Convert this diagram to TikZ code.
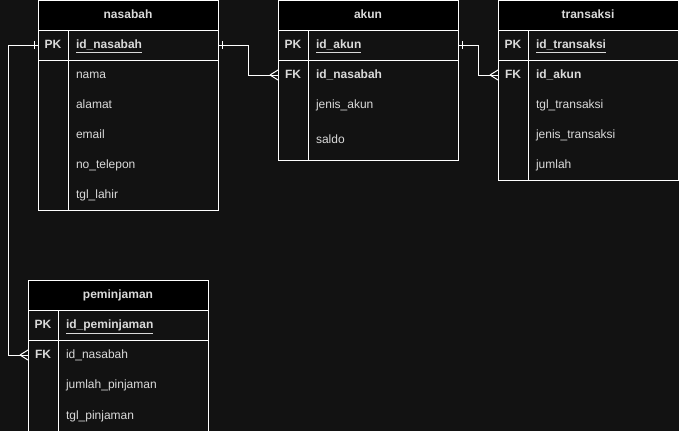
\documentclass[tikz,border=0pt]{standalone}
\usepackage{fontspec}
\setmainfont{Liberation Sans}
\usetikzlibrary{positioning}

\definecolor{canvas}{HTML}{121212}
\definecolor{ink}{HTML}{DADADA}

\newcommand{\erfont}{\fontsize{12}{14}\selectfont}

\tikzset{
	every node/.style={outer sep=0pt, inner sep=0pt, text=ink, text height=9.8pt, text depth=2pt, font=\erfont},
	tableline/.style={draw=white, line width=1pt},
	tablehead/.style={tableline, fill=black, minimum width=180pt, minimum height=30pt, font=\erfont\bfseries, anchor=north west},
	keycell/.style={minimum width=30pt, minimum height=30pt, font=\erfont\bfseries},
	fieldcell/.style={minimum width=150pt, minimum height=30pt, text width=134pt, inner xsep=8pt, align=left},
	pkkey/.style={keycell, tableline},
	pkfield/.style={fieldcell, tableline},
	rel/.style={draw=white, line width=1pt}
}

\begin{document}
\begin{tikzpicture}[x=1pt, y=-1pt]
		\path[use as bounding box, fill=canvas] (0,0) rectangle (679,431);
		\clip (0,0) rectangle (679,431);

		% nasabah
		\node[tablehead] (nas) at (38,0) {nasabah};
		\node[pkkey, below right=0pt of nas.south west]  (nas-pk) {PK};
		\node[pkfield, right=0pt of nas-pk]              (nas-id) {\underline{\textbf{id\_nasabah}}};
		\node[keycell, below=0pt of nas-pk]              (nas-k1) {};
		\node[fieldcell, right=0pt of nas-k1]            (nas-f1) {nama};
		\node[keycell, below=0pt of nas-k1]              (nas-k2) {};
		\node[fieldcell, right=0pt of nas-k2]            (nas-f2) {alamat};
		\node[keycell, below=0pt of nas-k2]              (nas-k3) {};
		\node[fieldcell, right=0pt of nas-k3]            (nas-f3) {email};
		\node[keycell, below=0pt of nas-k3]              (nas-k4) {};
		\node[fieldcell, right=0pt of nas-k4]            (nas-f4) {no\_telepon};
		\node[keycell, below=0pt of nas-k4]              (nas-k5) {};
		\node[fieldcell, right=0pt of nas-k5]            (nas-f5) {tgl\_lahir};
		\draw[tableline] (nas-k1.north west) rectangle (nas-f5.south east);
		\draw[tableline] (nas-k1.north east) -- (nas-k5.south east);

		% akun
		\node[tablehead] (akun) at (278,0) {akun};
		\node[pkkey, below right=0pt of akun.south west] (akun-pk) {PK};
		\node[pkfield, right=0pt of akun-pk]             (akun-id) {\underline{\textbf{id\_akun}}};
		\node[keycell, below=0pt of akun-pk]             (akun-k1) {FK};
		\node[fieldcell, right=0pt of akun-k1]           (akun-f1) {\textbf{id\_nasabah}};
		\node[keycell, below=0pt of akun-k1]             (akun-k2) {};
		\node[fieldcell, right=0pt of akun-k2]           (akun-f2) {jenis\_akun};
		\node[keycell, minimum height=40pt, below=0pt of akun-k2] (akun-k3) {};
		\node[fieldcell, minimum height=40pt, right=0pt of akun-k3] (akun-f3) {saldo};
		\draw[tableline] (akun-k1.north west) rectangle (akun-f3.south east);
		\draw[tableline] (akun-k1.north east) -- (akun-k3.south east);

		% transaksi
		\node[tablehead] (trx) at (498,0) {transaksi};
		\node[pkkey, below right=0pt of trx.south west]  (trx-pk) {PK};
		\node[pkfield, right=0pt of trx-pk]              (trx-id) {\underline{\textbf{id\_transaksi}}};
		\node[keycell, below=0pt of trx-pk]              (trx-k1) {FK};
		\node[fieldcell, right=0pt of trx-k1]            (trx-f1) {\textbf{id\_akun}};
		\node[keycell, below=0pt of trx-k1]              (trx-k2) {};
		\node[fieldcell, right=0pt of trx-k2]            (trx-f2) {tgl\_transaksi};
		\node[keycell, below=0pt of trx-k2]              (trx-k3) {};
		\node[fieldcell, right=0pt of trx-k3]            (trx-f3) {jenis\_transaksi};
		\node[keycell, below=0pt of trx-k3]              (trx-k4) {};
		\node[fieldcell, right=0pt of trx-k4]            (trx-f4) {jumlah};
		\draw[tableline] (trx-k1.north west) rectangle (trx-f4.south east);
		\draw[tableline] (trx-k1.north east) -- (trx-k4.south east);

		% peminjaman
		\node[tablehead] (pem) at (28,280) {peminjaman};
		\node[pkkey, below right=0pt of pem.south west]  (pem-pk) {PK};
		\node[pkfield, right=0pt of pem-pk]              (pem-id) {\underline{\textbf{id\_peminjaman}}};
		\node[keycell, below=0pt of pem-pk]              (pem-k1) {FK};
		\node[fieldcell, right=0pt of pem-k1]            (pem-f1) {id\_nasabah};
		\node[keycell, below=0pt of pem-k1]              (pem-k2) {};
		\node[fieldcell, right=0pt of pem-k2]            (pem-f2) {jumlah\_pinjaman};
		\node[keycell, minimum height=32pt, below=0pt of pem-k2] (pem-k3) {};
		\node[fieldcell, minimum height=32pt, right=0pt of pem-k3] (pem-f3) {tgl\_pinjaman};
		\draw[tableline] (pem-k1.north west) rectangle (pem-f3.south east);
		\draw[tableline] (pem-k1.north east) -- (pem-k3.south east);

		% relations: one side bar, many side crow's foot
		\draw[rel] (nas-pk.west) -- ++(-30,0) |- (pem-k1.west);
		\draw[rel] ([xshift=-4pt]nas-pk.west) ++(0,-4) -- ++(0,8);
		\draw[rel] ([xshift=-8pt]pem-k1.west) -- ++(8,-5) ([xshift=-8pt]pem-k1.west) -- ++(8,5);

		\draw[rel] (nas-id.east) -- ++(30,0) |- (akun-k1.west);
		\draw[rel] ([xshift=4pt]nas-id.east) ++(0,-4) -- ++(0,8);
		\draw[rel] ([xshift=-8pt]akun-k1.west) -- ++(8,-5) ([xshift=-8pt]akun-k1.west) -- ++(8,5);

		\draw[rel] (akun-id.east) -- ++(20,0) |- (trx-k1.west);
		\draw[rel] ([xshift=4pt]akun-id.east) ++(0,-4) -- ++(0,8);
		\draw[rel] ([xshift=-8pt]trx-k1.west) -- ++(8,-5) ([xshift=-8pt]trx-k1.west) -- ++(8,5);
	\end{tikzpicture}
\end{document}
